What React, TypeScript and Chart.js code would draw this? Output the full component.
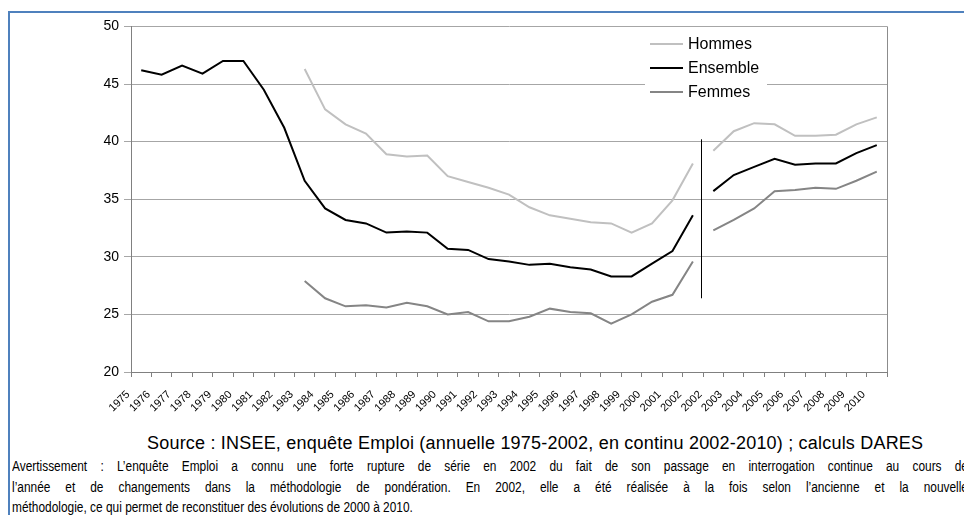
import React, { useEffect, useRef } from "react";
import { Chart, registerables } from "chart.js";

Chart.register(...registerables);

const years: string[] = [
  "1975", "1976", "1977", "1978", "1979", "1980", "1981", "1982", "1983", "1984",
  "1985", "1986", "1987", "1988", "1989", "1990", "1991", "1992", "1993", "1994",
  "1995", "1996", "1997", "1998", "1999", "2000", "2001", "2002",
  "2002", "2003", "2004", "2005", "2006", "2007", "2008", "2009", "2010",
];

const hommes: (number | null)[] = [
  null, null, null, null, null, null, null, null,
  46.3, 42.8, 41.5, 40.7, 38.9, 38.7, 38.8, 37.0, 36.5, 36.0, 35.4, 34.3,
  33.6, 33.3, 33.0, 32.9, 32.1, 32.9, 34.9, 38.1,
  39.2, 40.9, 41.6, 41.5, 40.5, 40.5, 40.6, 41.5, 42.1,
];

const ensemble: (number | null)[] = [
  46.2, 45.8, 46.6, 45.9, 47.0, 47.0, 44.5, 41.2, 36.6, 34.2,
  33.2, 32.9, 32.1, 32.2, 32.1, 30.7, 30.6, 29.8, 29.6, 29.3,
  29.4, 29.1, 28.9, 28.3, 28.3, 29.4, 30.5, 33.6,
  35.7, 37.1, 37.8, 38.5, 38.0, 38.1, 38.1, 39.0, 39.7,
];

const femmes: (number | null)[] = [
  null, null, null, null, null, null, null, null,
  27.9, 26.4, 25.7, 25.8, 25.6, 26.0, 25.7, 25.0, 25.2, 24.4, 24.4, 24.8,
  25.5, 25.2, 25.1, 24.2, 25.0, 26.1, 26.7, 29.6,
  32.3, 33.2, 34.2, 35.7, 35.8, 36.0, 35.9, 36.6, 37.4,
];

const seriesNames = ["Hommes", "Ensemble", "Femmes"];
const seriesColors = ["#c0c0c0", "#000000", "#858585"];

// index of last point of the old series (2002 annual); the break comes after it
const breakIndex = 27;
const breakTop = 40.2;
const breakBottom = 26.4;

const yMin = 20;
const yMax = 50;
const yStep = 5;

const FONT = "'Liberation Sans', Arial, sans-serif";

const overlayPlugin = {
  id: "overlay",
  afterDatasetsDraw(chart: any) {
    const { ctx, chartArea, scales } = chart;
    const xs = scales.x;
    const ys = scales.y;
    ctx.save();
    // right border of plot area
    ctx.strokeStyle = "#8c8c8c";
    ctx.lineWidth = 1;
    ctx.beginPath();
    ctx.moveTo(Math.round(chartArea.right) + 0.5, chartArea.top);
    ctx.lineTo(Math.round(chartArea.right) + 0.5, chartArea.bottom);
    ctx.stroke();

    // break line between the two 2002 values
    const p0 = xs.getPixelForValue(breakIndex);
    const p1 = xs.getPixelForValue(breakIndex + 1);
    const bx = Math.round(p0 + (p1 - p0) * 0.4) + 0.5;
    ctx.strokeStyle = "#000000";
    ctx.beginPath();
    ctx.moveTo(bx, ys.getPixelForValue(breakTop));
    ctx.lineTo(bx, ys.getPixelForValue(breakBottom));
    ctx.stroke();

    // legend inside plot
    const r = chartArea.right;
    const t = chartArea.top;
    ctx.fillStyle = "#ffffff";
    ctx.fillRect(r - 242, t + 4, 122, 70);
    ctx.font = `16px ${FONT}`;
    ctx.textBaseline = "middle";
    ctx.textAlign = "left";
    seriesNames.forEach((name, i) => {
      const y = t + 17.5 + i * 24;
      ctx.strokeStyle = seriesColors[i];
      ctx.lineWidth = 2;
      ctx.beginPath();
      ctx.moveTo(r - 237, y);
      ctx.lineTo(r - 204, y);
      ctx.stroke();
      ctx.fillStyle = "#000000";
      ctx.fillText(name, r - 199, y + 1);
    });
    ctx.restore();
  },
};

function makeDataset(label: string, data: (number | null)[], color: string) {
  return {
    label,
    data,
    borderColor: color,
    backgroundColor: color,
    borderWidth: 2,
    pointRadius: 0,
    pointHoverRadius: 0,
    tension: 0,
    spanGaps: false,
    segment: {
      borderColor: (ctx: any) =>
        ctx.p0DataIndex === breakIndex ? "rgba(0,0,0,0)" : undefined,
    },
  };
}

export default function App() {
  const canvasRef = useRef<HTMLCanvasElement | null>(null);

  useEffect(() => {
    const canvas = canvasRef.current;
    if (!canvas) return;
    const chart = new Chart(canvas, {
      type: "line",
      data: {
        labels: years,
        datasets: [
          makeDataset(seriesNames[0], hommes, seriesColors[0]),
          makeDataset(seriesNames[1], ensemble, seriesColors[1]),
          makeDataset(seriesNames[2], femmes, seriesColors[2]),
        ],
      },
      options: {
        animation: false,
        responsive: false,
        devicePixelRatio: 1,
        layout: { padding: { top: 13, right: 85, left: 0, bottom: 0 } },
        plugins: {
          legend: { display: false },
          tooltip: { enabled: false },
        },
        scales: {
          x: {
            type: "category",
            offset: true,
            grid: {
              offset: true,
              drawOnChartArea: false,
              drawTicks: true,
              tickLength: 5,
              color: "#808080",
            },
            border: { color: "#808080", width: 1 },
            ticks: {
              autoSkip: false,
              maxRotation: 45,
              minRotation: 45,
              color: "#000000",
              font: { family: FONT, size: 11 },
              padding: 11,
              labelOffset: -13,
            },
            afterFit: (s: any) => {
              s.height = 61;
            },
          },
          y: {
            min: yMin,
            max: yMax,
            grid: {
              color: "#a6a6a6",
              tickLength: 7,
              lineWidth: 1,
            },
            border: { color: "#808080", width: 1 },
            ticks: {
              stepSize: yStep,
              color: "#000000",
              font: { family: FONT, size: 14 },
              padding: 5,
            },
            afterFit: (s: any) => {
              s.width = 121;
            },
          },
        },
      },
      plugins: [overlayPlugin],
    });
    return () => chart.destroy();
  }, []);

  const scaleX = 0.85;
  const lineBase: React.CSSProperties = {
    position: "absolute",
    left: 2,
    width: 956 / scaleX,
    height: 20.5,
    lineHeight: "20.5px",
    fontFamily: FONT,
    fontSize: 14,
    whiteSpace: "nowrap",
    color: "#000",
    transform: `scaleX(${scaleX})`,
    transformOrigin: "0 0",
  };

  return (
    <div
      style={{
        position: "relative",
        marginTop: 3,
        width: 962,
        height: 502,
        borderTop: "2px solid #4f81bd",
        borderLeft: "2px solid #4f81bd",
        overflow: "hidden",
        fontFamily: FONT,
      }}
    >
      <canvas
        ref={canvasRef}
        width={962}
        height={420}
        style={{ position: "absolute", left: 0, top: 0, width: 962, height: 420 }}
      />
      <div
        style={{
          position: "absolute",
          left: 137,
          top: 420,
          fontSize: 18,
          letterSpacing: "0.2px",
          lineHeight: "20px",
          whiteSpace: "nowrap",
          fontFamily: FONT,
          color: "#000",
        }}
      >
        Source : INSEE, enquête Emploi (annuelle 1975-2002, en continu 2002-2010) ; calculs DARES
      </div>
      <div style={{ ...lineBase, top: 443, textAlign: "justify", textAlignLast: "justify" }}>
        Avertissement : L’enquête Emploi a connu une forte rupture de série en 2002 du fait de son passage en interrogation continue au cours de
      </div>
      <div style={{ ...lineBase, top: 463.5, textAlign: "justify", textAlignLast: "justify" }}>
        l’année et de changements dans la méthodologie de pondération. En 2002, elle a été réalisée à la fois selon l’ancienne et la nouvelle
      </div>
      <div style={{ ...lineBase, top: 484, textAlign: "left" }}>
        méthodologie, ce qui permet de reconstituer des évolutions de 2000 à 2010.
      </div>
    </div>
  );
}
